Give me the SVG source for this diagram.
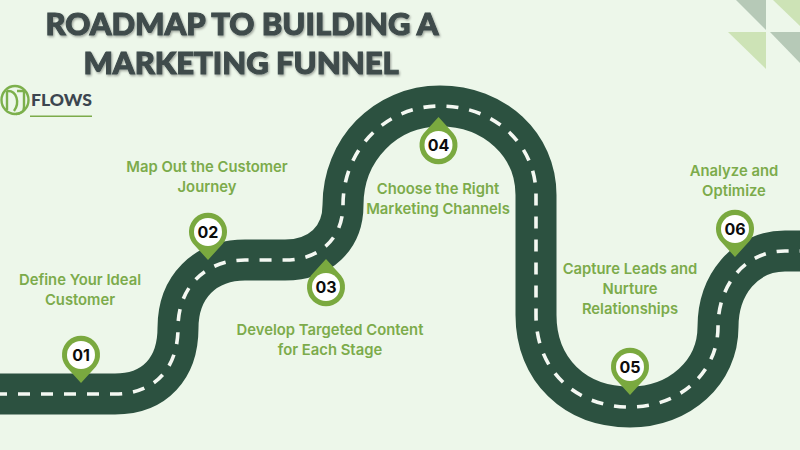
<svg xmlns="http://www.w3.org/2000/svg" width="800" height="450" viewBox="0 0 800 450">
<style>
.title{font-family:"Lato","Liberation Sans",sans-serif;font-weight:900;font-size:31px;fill:#3f4c4c;stroke:#3f4c4c;stroke-width:1.1px;text-anchor:middle;filter:url(#sh)}
.lab{font-family:"Inter","Liberation Sans",sans-serif;font-weight:600;font-size:14.8px;fill:#7cab4b;text-anchor:middle}
.num{font-family:"Inter","Liberation Sans",sans-serif;font-weight:700;font-size:16px;fill:#0c0c0c;text-anchor:middle}
.pin{fill:#7aa93f}
.hole{fill:#fff}
.road{fill:none;stroke:#2c5140;stroke-width:41}
.dash{fill:none;stroke:#f4f8f2;stroke-width:3.6;stroke-dasharray:12 11}
.tri-d{fill:#b6c9b7}
.tri-l{fill:#cde3b6}
.logo{fill:none;stroke:#7cb04c;stroke-width:2.4}
</style>
<defs>
<filter id="sh" x="-5%" y="-20%" width="110%" height="150%"><feDropShadow dx="1" dy="1.4" stdDeviation=".8" flood-color="#000" flood-opacity=".35"/></filter>
<path id="pd" d="M0,28 L-15,11.5 A19,19 0 1 1 15,11.5 Z"/>
<path id="pu" d="M0,-28 L-15,-11.5 A19,19 0 1 0 15,-11.5 Z"/>
</defs>
<rect width="800" height="450" fill="#edf7ea"/>
<g id="corner">
<polygon class="tri-d" points="736,0 766,0 766,30"/>
<polygon class="tri-l" points="773,0 800,0 800,26"/>
<polygon class="tri-l" points="728,32 766,32 766,69"/>
<polygon class="tri-d" points="770,32 800,32 800,63"/>
</g>
<g id="title">
<text class="title" x="242" y="35">ROADMAP TO BUILDING A</text>
<text class="title" x="241" y="74">MARKETING FUNNEL</text>
</g>
<g id="logo">
<ellipse class="logo" cx="15" cy="100" rx="13.500" ry="14"/>
<path class="logo" d="M7,91 V110 M7,91 C17,90 20,103 14,111 M17,91 H24 V107 C24,112 20,114 16,114"/>
<text x="31" y="106" font-family="Lato,'Liberation Sans',sans-serif" font-weight="900" font-size="17" fill="#3c4650" textLength="61" lengthAdjust="spacingAndGlyphs">FLOWS</text>
<rect x="30" y="115.500" width="62" height="1.500" fill="#7cab4b"/>
</g>
<g id="connectors">
<path class="road" id="road" d="M-5,394 H115 C155,394 178,368 178,328 C178,287 205,260 245,260 H285 C320,260 343,238 343,205 C343,150 385,106 440,106 C495,106 536,145 536,195 V315 C536,370 575,407 630,407 C680,407 718,372 718,327 C718,285 745,251 785,251 H805"/>
<path class="dash" d="M-5,394 H115 C155,394 178,368 178,328 C178,287 205,260 245,260 H285 C320,260 343,238 343,205 C343,150 385,106 440,106 C495,106 536,145 536,195 V315 C536,370 575,407 630,407 C680,407 718,372 718,327 C718,285 745,251 785,251 H805"/>
</g>
<g id="node-01"><use href="#pd" class="pin" x="81" y="355"/><circle class="hole" cx="81" cy="355" r="14"/><text class="num" x="81" y="361">01</text><text class="lab" x="80" y="285">Define Your Ideal</text><text class="lab" x="80" y="305">Customer</text></g>
<g id="node-02"><use href="#pd" class="pin" x="208" y="232"/><circle class="hole" cx="208" cy="232" r="14"/><text class="num" x="208" y="238">02</text><text class="lab" x="207" y="172">Map Out the Customer</text><text class="lab" x="207" y="192">Journey</text></g>
<g id="node-03"><use href="#pu" class="pin" x="326" y="287"/><circle class="hole" cx="326" cy="287" r="14"/><text class="num" x="326" y="293">03</text><text class="lab" x="330" y="335">Develop Targeted Content</text><text class="lab" x="330" y="355">for Each Stage</text></g>
<g id="node-04"><use href="#pu" class="pin" x="438.500" y="145"/><circle class="hole" cx="438.500" cy="145" r="14"/><text class="num" x="438.500" y="151">04</text><text class="lab" x="438" y="194">Choose the Right</text><text class="lab" x="438" y="214">Marketing Channels</text></g>
<g id="node-05"><use href="#pd" class="pin" x="630" y="367"/><circle class="hole" cx="630" cy="367" r="14"/><text class="num" x="630" y="373">05</text><text class="lab" x="630" y="274">Capture Leads and</text><text class="lab" x="630" y="294">Nurture</text><text class="lab" x="630" y="314">Relationships</text></g>
<g id="node-06"><use href="#pd" class="pin" x="735" y="229"/><circle class="hole" cx="735" cy="229" r="14"/><text class="num" x="735" y="235">06</text><text class="lab" x="734" y="176">Analyze and</text><text class="lab" x="734" y="196">Optimize</text></g>
</svg>
